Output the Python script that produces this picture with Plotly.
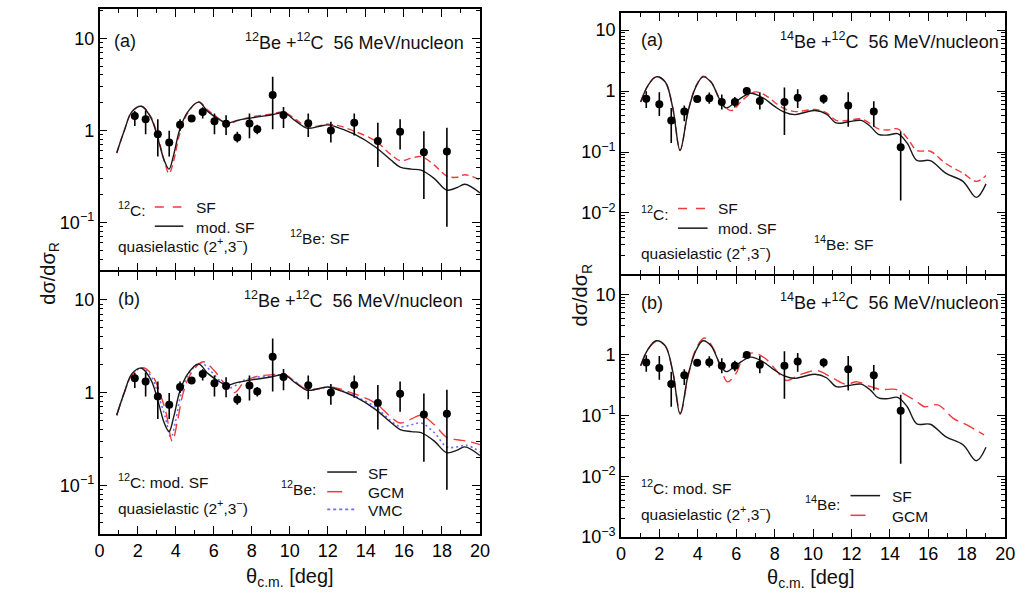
import plotly.graph_objects as go

W, H = 1030, 602
FONT = "Liberation Sans, Arial, sans-serif"

# ---------------- data ----------------
# 12Be + 12C experimental points
be12_x = [1.85, 2.42, 3.06, 3.66, 4.23, 4.84, 5.42, 6.04, 6.65, 7.24, 7.88, 8.29, 9.10, 9.67, 10.97, 12.16, 13.39, 14.63, 15.80, 17.05, 18.26]
be12_y = [1.43, 1.32, 0.91, 0.74, 1.15, 1.35, 1.59, 1.26, 1.18, 0.84, 1.19, 1.03, 2.43, 1.47, 1.20, 1.00, 1.21, 0.77, 0.97, 0.58, 0.59]
be12_hi = [1.63, 1.65, 1.32, 0.99, 1.32, 1.42, 1.78, 1.53, 1.46, 0.97, 1.53, 1.15, 3.83, 1.80, 1.53, 1.24, 1.53, 1.21, 1.32, 0.98, 1.07]
be12_lo = [1.12, 0.91, 0.52, 0.52, 0.99, 1.28, 1.35, 0.91, 0.89, 0.74, 0.82, 0.91, 1.03, 1.06, 0.85, 0.74, 0.88, 0.40, 0.62, 0.18, 0.09]

# 12Be curves
c12_x = [0.9, 1.3, 1.7, 2.2, 2.7, 3.1, 3.4, 3.65, 3.9, 4.2, 4.6, 5.2, 5.7, 6.2, 6.7, 7.2, 8.0, 9.0, 9.7, 10.3, 10.9, 11.5, 12.0, 12.6, 13.4, 14.5, 15.3, 15.8, 16.4, 16.9, 17.6, 18.25, 18.8, 19.2, 20.0]
modsf12_y = [0.57, 1.0, 1.6, 1.83, 1.37, 0.77, 0.47, 0.38, 0.55, 1.0, 1.55, 2.03, 1.6, 1.35, 1.2, 1.28, 1.37, 1.47, 1.55, 1.27, 1.06, 1.1, 1.15, 1.06, 0.91, 0.66, 0.48, 0.40, 0.38, 0.37, 0.30, 0.225, 0.24, 0.26, 0.21]
sf12_y = [0.57, 1.0, 1.6, 1.83, 1.4, 0.8, 0.47, 0.34, 0.47, 0.9, 1.5, 2.05, 1.65, 1.38, 1.15, 1.27, 1.4, 1.5, 1.58, 1.32, 1.1, 1.12, 1.17, 1.12, 0.98, 0.77, 0.55, 0.47, 0.50, 0.52, 0.42, 0.32, 0.31, 0.33, 0.29]

gcm12_x = [0.9, 1.3, 1.7, 2.3, 2.8, 3.2, 3.5, 3.82, 4.1, 4.4, 4.8, 5.45, 6.0, 6.5, 7.1, 7.6, 8.3, 9.0, 9.7, 10.3, 10.9, 11.5, 12.0, 12.6, 13.4, 14.5, 15.3, 15.8, 16.4, 16.9, 17.6, 18.25, 18.8, 19.3, 20.0]
gcm12_y = [0.57, 1.0, 1.55, 1.85, 1.5, 0.95, 0.6, 0.30, 0.5, 1.0, 1.6, 2.15, 1.75, 1.3, 1.0, 1.3, 1.5, 1.55, 1.58, 1.3, 1.08, 1.1, 1.15, 1.1, 0.97, 0.77, 0.55, 0.47, 0.52, 0.57, 0.45, 0.33, 0.31, 0.30, 0.275]
vmc12_x = [0.9, 1.3, 1.7, 2.25, 2.75, 3.15, 3.45, 3.75, 4.0, 4.3, 4.7, 5.3, 5.85, 6.4, 6.9, 7.4, 8.1, 9.0, 9.7, 10.3, 10.9, 11.5, 12.0, 12.6, 13.4, 14.5, 15.3, 15.8, 16.4, 16.9, 17.6, 18.25, 18.8, 19.3, 20.0]
vmc12_y = [0.57, 1.0, 1.55, 1.84, 1.45, 0.85, 0.55, 0.33, 0.5, 1.0, 1.6, 2.1, 1.7, 1.3, 1.13, 1.3, 1.45, 1.5, 1.55, 1.3, 1.07, 1.1, 1.14, 1.07, 0.92, 0.70, 0.50, 0.43, 0.45, 0.47, 0.37, 0.26, 0.26, 0.27, 0.23]

# 14Be + 12C experimental points
be14_x = [1.32, 2.0, 2.62, 3.30, 3.97, 4.6, 5.25, 5.93, 6.55, 7.23, 8.51, 9.2, 10.55, 11.83, 13.16, 14.56]
be14_y = [0.75, 0.61, 0.33, 0.46, 0.74, 0.76, 0.66, 0.66, 1.0, 0.69, 0.66, 0.78, 0.75, 0.58, 0.46, 0.12]
be14_hi = [0.99, 0.96, 0.53, 0.58, 0.80, 0.95, 0.88, 0.80, 1.08, 0.96, 1.15, 1.07, 0.88, 0.96, 0.68, 0.22]
be14_lo = [0.53, 0.39, 0.14, 0.32, 0.69, 0.62, 0.50, 0.54, 0.93, 0.50, 0.19, 0.53, 0.62, 0.26, 0.26, 0.016]

# 14Be curves
c14_x = [1.03, 1.4, 1.83, 2.3, 2.7, 3.08, 3.5, 3.9, 4.27, 4.7, 5.1, 5.47, 6.0, 6.75, 7.4, 8.0, 8.5, 9.05, 9.6, 10.1, 10.7, 11.2, 11.8, 12.5, 13.0, 13.4, 13.9, 14.4, 14.9, 15.4, 16.1, 16.9, 17.8, 18.5, 19.0]
sf14_black_y = [0.66, 1.22, 1.71, 1.42, 0.53, 0.106, 0.47, 1.17, 1.71, 1.4, 0.77, 0.53, 0.68, 0.92, 0.77, 0.56, 0.45, 0.41, 0.45, 0.48, 0.42, 0.30, 0.31, 0.33, 0.26, 0.195, 0.19, 0.20, 0.14, 0.073, 0.072, 0.045, 0.033, 0.018, 0.030]
sf14_x = [1.03, 1.4, 1.83, 2.3, 2.7, 3.08, 3.5, 3.9, 4.3, 4.7, 5.1, 5.5, 5.8, 6.3, 7.0, 7.6, 8.1, 8.6, 9.1, 9.6, 10.1, 10.7, 11.2, 11.8, 12.5, 13.0, 13.4, 13.9, 14.4, 14.9, 15.4, 16.1, 16.9, 17.8, 18.5, 19.0]
sf14_red_y = [0.66, 1.22, 1.72, 1.42, 0.53, 0.108, 0.47, 1.2, 1.76, 1.4, 0.8, 0.52, 0.48, 0.7, 0.97, 0.82, 0.62, 0.5, 0.46, 0.48, 0.5, 0.44, 0.33, 0.33, 0.35, 0.29, 0.24, 0.23, 0.24, 0.17, 0.106, 0.103, 0.065, 0.045, 0.033, 0.041]
gcm14_x = [1.03, 1.4, 1.9, 2.3, 2.7, 3.1, 3.5, 3.9, 4.35, 4.8, 5.2, 5.55, 6.0, 6.4, 6.9, 7.5, 8.0, 8.6, 9.3, 10.2, 11.0, 11.7, 12.3, 13.0, 13.5, 14.3, 14.6, 15.4, 15.8, 16.5, 17.3, 18.0, 18.9]
gcm14_y = [0.66, 1.22, 1.7, 1.42, 0.53, 0.11, 0.45, 1.25, 1.9, 1.3, 0.6, 0.36, 0.5, 0.95, 1.08, 0.88, 0.6, 0.38, 0.47, 0.55, 0.42, 0.33, 0.36, 0.30, 0.27, 0.27, 0.24, 0.17, 0.14, 0.15, 0.09, 0.07, 0.048]

# ticks
x_ticks = [0, 2, 4, 6, 8, 10, 12, 14, 16, 18, 20]
x_ticktext = [str(v) for v in x_ticks]
yl_ticks = [0.1, 1, 10]
yl_text = ["10<sup>\u22121</sup>", "1", "10"]
yr_ticks = [0.001, 0.01, 0.1, 1, 10]
yr_text = ["10<sup>\u22123</sup>", "10<sup>\u22122</sup>", "10<sup>\u22121</sup>", "1", "10"]

RED = "#f03a3a"
BLUE = "#6a6aff"
BLACK = "#1a1a1a"

def minor_log(lo_dec, hi_dec):
    vals = []
    for d in range(lo_dec, hi_dec + 1):
        for m in range(2, 10):
            vals.append(m * 10.0 ** d)
    return vals

fig = go.Figure()

def add_points(xs, ys, hi, lo, xa, ya):
    fig.add_trace(go.Scatter(
        x=xs, y=ys, mode="markers", xaxis=xa, yaxis=ya,
        marker=dict(color="black", size=8),
        error_y=dict(type="data", symmetric=False,
                     array=[h - y for h, y in zip(hi, ys)],
                     arrayminus=[y - l for y, l in zip(ys, lo)],
                     color="black", thickness=1.6, width=0),
        showlegend=False))

def add_curve(xs, ys, xa, ya, color, dash, width=1.4):
    fig.add_trace(go.Scatter(
        x=xs, y=ys, mode="lines", xaxis=xa, yaxis=ya,
        line=dict(color=color, width=width, dash=dash, shape="spline", smoothing=1.0),
        showlegend=False))

SF_DASH = "7px,4px"
GCM_DASH = "12px,6px"
VMC_DOT = "2px,3px"

# Top-left
add_curve(c12_x, sf12_y, "x", "y", RED, SF_DASH)
add_curve(c12_x, modsf12_y, "x", "y", BLACK, "solid")
add_points(be12_x, be12_y, be12_hi, be12_lo, "x", "y")
# Bottom-left
add_curve(vmc12_x, vmc12_y, "x2", "y2", BLUE, VMC_DOT, 1.6)
add_curve(gcm12_x, gcm12_y, "x2", "y2", RED, GCM_DASH)
add_curve(c12_x, modsf12_y, "x2", "y2", BLACK, "solid")
add_points(be12_x, be12_y, be12_hi, be12_lo, "x2", "y2")
# Top-right
add_curve(sf14_x, sf14_red_y, "x3", "y3", RED, SF_DASH)
add_curve(c14_x, sf14_black_y, "x3", "y3", BLACK, "solid")
add_points(be14_x, be14_y, be14_hi, be14_lo, "x3", "y3")
# Bottom-right
add_curve(gcm14_x, gcm14_y, "x4", "y4", RED, GCM_DASH)
add_curve(c14_x, sf14_black_y, "x4", "y4", BLACK, "solid")
add_points(be14_x, be14_y, be14_hi, be14_lo, "x4", "y4")

def px(x):
    return x / W

def py(y):
    return 1 - y / H

tickfont = dict(family=FONT, size=18, color="black")

def xaxis(dom, anchor, labels):
    return dict(domain=dom, anchor=anchor, range=[0, 20], tickvals=x_ticks, ticktext=x_ticktext,
                showticklabels=labels, ticks="inside", ticklen=8, tickwidth=1.2, tickcolor="black",
                minor=dict(dtick=1, tick0=0, ticks="inside", ticklen=4, tickwidth=1.1, tickcolor="black"),
                showline=True, linecolor="black", linewidth=1.5, mirror="allticks",
                showgrid=False, zeroline=False, tickfont=tickfont)

def yaxis(dom, anchor, rng, tv, tt, lo_dec, hi_dec):
    return dict(domain=dom, anchor=anchor, type="log", range=rng, tickvals=tv, ticktext=tt,
                ticks="inside", ticklen=8, tickwidth=1.2, tickcolor="black",
                minor=dict(tickvals=minor_log(lo_dec, hi_dec), ticks="inside", ticklen=4,
                           tickwidth=1.1, tickcolor="black"),
                showline=True, linecolor="black", linewidth=1.5, mirror="allticks",
                showgrid=False, zeroline=False, tickfont=tickfont)

xl = [px(96), px(482)]
xr = [px(625), px(1015)]

fig.update_layout(
    width=W, height=H, margin=dict(l=0, r=0, t=0, b=0),
    paper_bgcolor="white", plot_bgcolor="white",
    font=dict(family=FONT, color="black"),
    xaxis=xaxis(xl, "y", False),
    yaxis=yaxis([py(275.0), py(9)], "x", [-1.52, 1.32], yl_ticks, yl_text, -2, 1),
    xaxis2=xaxis(xl, "y2", True),
    yaxis2=yaxis([py(542.7), py(276.5)], "x2", [-1.52, 1.30], yl_ticks, yl_text, -2, 1),
    xaxis3=xaxis(xr, "y3", False),
    yaxis3=yaxis([py(278.5), py(13.3)], "x3", [-3.0, 1.28], yr_ticks[1:], yr_text[1:], -3, 1),
    xaxis4=xaxis(xr, "y4", True),
    yaxis4=yaxis([py(546), py(281)], "x4", [-3.0, 1.295], yr_ticks, yr_text, -3, 1),
)

ann = []

def text(x, y, s, size=15.5, anchor="left", angle=0):
    ann.append(dict(x=px(x), y=py(y), xref="paper", yref="paper", text=s, showarrow=False,
                    xanchor=anchor, yanchor="middle", textangle=angle,
                    font=dict(family=FONT, size=size, color="#111")))

shapes = []

def sample(x0, x1, y, color, dash, width=1.5):
    shapes.append(dict(type="line", xref="paper", yref="paper", x0=px(x0), x1=px(x1),
                       y0=py(y), y1=py(y), line=dict(color=color, width=width, dash=dash)))

title12 = "<sup>12</sup>Be +<sup>12</sup>C\u00a0\u00a056 MeV/nucleon"
title14 = "<sup>14</sup>Be +<sup>12</sup>C\u00a0\u00a056 MeV/nucleon"
quasi = "quasielastic (2<sup>+</sup>,3<sup>\u2212</sup>)"
TS = 18

# Top-left
text(109, 42, "(a)", TS)
text(468, 42, title12, TS, "right")
text(113, 213, "<sup>12</sup>C:")
sample(152, 179, 210.5, RED, "dash")
text(192, 211, "SF")
sample(152, 181, 230, BLACK, "solid")
text(192, 231.5, "mod. SF")
text(113, 249, quasi)
text(287, 241, "<sup>12</sup>Be: SF")

# Bottom-left
text(113, 304, "(b)", TS)
text(467, 305, title12, TS, "right")
text(113, 489, "<sup>12</sup>C: mod. SF")
text(113, 516, quasi)
text(278, 496, "<sup>12</sup>Be:")
sample(327, 357, 480, BLACK, "solid")
text(366, 481, "SF")
sample(327, 357, 500, RED, "longdash")
text(366, 501, "GCM")
sample(327, 357, 518, BLUE, "dot", 1.8)
text(366, 519, "VMC")

# Top-right
text(643, 41, "(a)", TS)
text(1011, 41, title14, TS, "right")
text(643, 217, "<sup>12</sup>C:")
sample(683, 713, 212, RED, "dash")
text(722, 212, "SF")
sample(683, 713, 232, BLACK, "solid")
text(722, 232, "mod. SF")
text(643, 256, quasi)
text(819, 247, "<sup>14</sup>Be: SF")

# Bottom-right
text(643, 308, "(b)", TS)
text(1011, 307, title14, TS, "right")
text(643, 495, "<sup>12</sup>C: mod. SF")
text(643, 522, quasi)
text(810, 512, "<sup>14</sup>Be:")
sample(858, 888, 504, BLACK, "solid")
text(898, 505, "SF")
sample(858, 888, 524, RED, "longdash")
text(898, 525, "GCM")

# axis titles
text(45, 278, "d\u03c3/d\u03c3<sub>R</sub>", 20, "center", -90)
text(585, 300, "d\u03c3/d\u03c3<sub>R</sub>", 20, "center", -90)
text(289, 587, "\u03b8<sub>c.m.</sub> [deg]", 20, "center")
text(818, 588, "\u03b8<sub>c.m.</sub> [deg]", 20, "center")

fig.update_layout(annotations=ann, shapes=shapes)
fig.write_html("out.html")
